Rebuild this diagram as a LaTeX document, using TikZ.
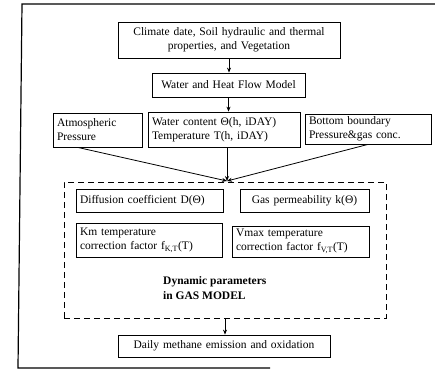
\documentclass[tikz,border=0pt]{standalone}
\usepackage{fontspec}
\setmainfont{Liberation Serif}
\usetikzlibrary{arrows.meta,calc}
\begin{document}
\begin{tikzpicture}[x=1pt,y=-1pt,
  box/.style={draw, line width=0.8pt, inner xsep=4pt, inner ysep=0pt, font=\fontsize{11.5}{14}\selectfont},
  arr/.style={line width=0.8pt, -{Stealth[length=5pt,width=4pt]}},
  frame/.style={line width=1.2pt}]
\useasboundingbox (0,0) rectangle (435,372);
\draw[frame] (435,4) -- (22,4) -- (18,368) -- (270,368);

\node[box, text width=214pt, minimum height=36pt, align=center] (clim) at (229,40)
  {Climate date, Soil hydraulic and thermal\\properties, and Vegetation};
\node[box, text width=145pt, minimum height=24pt, align=center] (wh) at (228.5,85)
  {Water and Heat Flow Model};
\node[box, text width=81pt, minimum height=34pt, align=left] (atm) at (97.5,130)
  {Atmospheric\\Pressure};
\node[box, text width=144pt, minimum height=35pt, align=left] (wc) at (224,129.5)
  {Water content Θ(h, iDAY)\\Temperature T(h, iDAY)};
\node[box, text width=118pt, minimum height=30pt, align=left] (bb) at (368,129)
  {Bottom boundary\\Pressure\&gas conc.};

\node[draw, dashed, line width=0.9pt, dash pattern=on 6pt off 4pt, minimum width=322pt, minimum height=136pt, inner sep=0pt] (gm) at (225,250) {};
\coordinate (apex) at (227,181);

\node[box, text width=139pt, minimum height=23pt, align=left] (diff) at (149.5,200.5)
  {Diffusion coefficient D(Θ)};
\node[box, text width=121pt, minimum height=23pt, align=center] (gas) at (304.5,200.5)
  {Gas permeability k(Θ)};
\node[box, text width=138pt, minimum height=34pt, align=left] (km) at (149,240)
  {Km temperature\\correction factor f\textsubscript{K,T}(T)};
\node[box, text width=129pt, minimum height=31pt, align=left] (vm) at (300.5,241.5)
  {Vmax temperature\\correction factor f\textsubscript{V,T}(T)};
\node[anchor=west, inner sep=0pt, align=left, font=\fontsize{11.5}{15}\selectfont\bfseries] (dyn) at (163,288)
  {Dynamic parameters\\in GAS MODEL};

\node[box, text width=204pt, minimum height=22pt, align=center] (daily) at (224,346)
  {Daily methane emission and oxidation};

\draw[arr] (clim.south) -- (clim.south |- wh.north);
\draw[arr] (wh.south) -- (wh.south |- wc.north);
\draw[arr] ($(atm.south west)!0.28!(atm.south east)$) -- (apex);
\draw[arr] (wc.south -| apex) -- (apex);
\draw[arr] (bb.south) -- (apex);
\draw[arr] (gm.south) -- (gm.south |- daily.north);
\end{tikzpicture}
\end{document}
